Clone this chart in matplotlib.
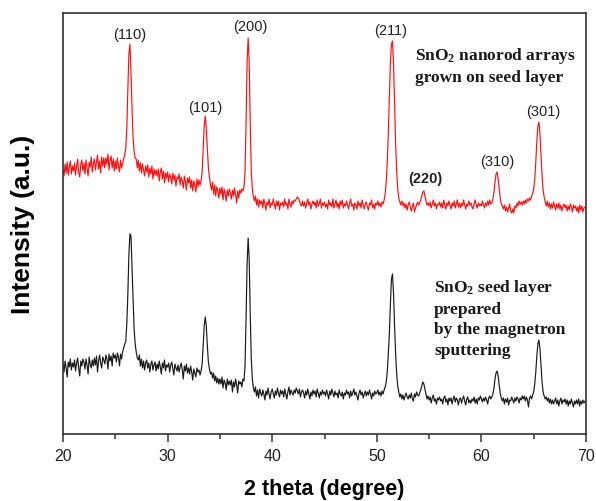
import numpy as np
import matplotlib
matplotlib.use("Agg")
import matplotlib.pyplot as plt

# ---------------- data ----------------
two_theta = np.round(np.arange(20.0, 70.0001, 0.1), 1)

nanorod_intensity = [
    264, 258, 270, 261, 272, 259, 267, 273, 260, 268,   # 20
    263, 271, 259, 268, 275, 262, 257, 270, 274, 263,   # 21
    271, 260, 274, 266, 258, 272, 267, 277, 262, 270,   # 22
    275, 264, 272, 279, 265, 273, 261, 277, 268, 276,   # 23
    266, 276, 270, 280, 264, 274, 278, 266, 275, 263,   # 24
    273, 265, 276, 268, 262, 274, 266, 271, 275, 279,   # 25
    286, 305, 345, 380, 390, 362, 325, 296, 282, 276,   # 26
    275, 266, 274, 263, 271, 261, 270, 264, 258, 268,   # 27
    262, 269, 257, 266, 260, 268, 255, 265, 259, 264,   # 28
    258, 265, 253, 262, 266, 255, 263, 251, 261, 256,   # 29
    262, 252, 260, 256, 250, 261, 254, 259, 248, 257,   # 30
    255, 260, 249, 257, 253, 246, 258, 252, 244, 256,   # 31
    251, 257, 246, 254, 243, 253, 249, 242, 255, 247,   # 32
    254, 249, 253, 262, 285, 308, 318, 305, 285, 266,   # 33
    257, 249, 244, 252, 240, 249, 238, 247, 243, 236,   # 34
    246, 240, 247, 234, 245, 240, 233, 244, 238, 245,   # 35
    241, 235, 244, 238, 246, 239, 231, 243, 236, 244,   # 36
    241, 245, 243, 247, 262, 310, 372, 396, 372, 310,   # 37
    262, 245, 237, 233, 238, 229, 235, 227, 234, 230,   # 38
    233, 226, 235, 230, 224, 232, 229, 235, 226, 231,   # 39
    229, 235, 230, 225, 233, 228, 233, 224, 231, 229,   # 40
    232, 227, 235, 229, 231, 225, 235, 230, 227, 233,   # 41
    230, 234, 233, 235, 237, 236, 233, 230, 228, 233,   # 42
    228, 232, 226, 231, 235, 229, 232, 225, 230, 233,   # 43
    229, 232, 226, 234, 228, 230, 235, 226, 231, 229,   # 44
    232, 227, 230, 225, 234, 229, 231, 227, 235, 226,   # 45
    230, 234, 227, 231, 225, 233, 229, 234, 226, 230,   # 46
    228, 233, 229, 225, 231, 235, 228, 230, 224, 231,   # 47
    229, 225, 233, 228, 231, 226, 234, 229, 225, 230,   # 48
    232, 227, 224, 231, 229, 234, 226, 230, 225, 231,   # 49
    229, 233, 228, 231, 227, 232, 230, 234, 240, 252,   # 50
    272, 300, 335, 372, 390, 393, 370, 330, 290, 262,   # 51
    245, 236, 232, 229, 233, 228, 231, 226, 230, 224,   # 52
    229, 232, 227, 223, 227, 231, 222, 226, 229, 232,   # 53
    229, 231, 234, 238, 242, 243, 238, 233, 229, 231,   # 54
    228, 232, 226, 230, 234, 228, 231, 225, 230, 229,   # 55
    232, 227, 231, 226, 234, 229, 225, 231, 228, 233,   # 56
    229, 225, 231, 228, 233, 226, 230, 234, 227, 231,   # 57
    226, 231, 228, 234, 229, 225, 230, 228, 233, 229,   # 58
    231, 227, 225, 230, 234, 229, 226, 231, 228, 230,   # 59
    228, 233, 229, 226, 231, 228, 233, 229, 234, 230,   # 60
    231, 235, 242, 252, 260, 262, 255, 245, 236, 230,   # 61
    228, 225, 229, 223, 227, 222, 226, 230, 223, 221,   # 62
    225, 221, 228, 226, 231, 228, 233, 230, 232, 229,   # 63
    233, 230, 234, 231, 235, 233, 236, 234, 238, 240,   # 64
    245, 255, 272, 293, 308, 312, 300, 278, 258, 244,   # 65
    237, 232, 228, 233, 227, 231, 225, 230, 226, 232,   # 66
    228, 224, 230, 226, 231, 225, 229, 223, 228, 230,   # 67
    226, 229, 223, 228, 224, 230, 227, 222, 229, 226,   # 68
    228, 223, 227, 221, 229, 224, 228, 222, 226, 227,   # 69
    226,                                                # 70
]

seed_intensity = [
    70, 62, 73, 66, 57, 72, 67, 75, 64, 71,    # 20
    67, 74, 63, 71, 76, 66, 58, 73, 68, 75,    # 21
    72, 65, 75, 69, 60, 77, 70, 66, 74, 68,    # 22
    76, 69, 78, 62, 73, 79, 71, 66, 77, 74,    # 23
    70, 79, 75, 65, 80, 73, 78, 68, 81, 76,    # 24
    79, 72, 81, 77, 68, 80, 75, 82, 86, 90,    # 25
    92, 110, 140, 180, 200, 198, 165, 135, 105, 90,  # 26
    82, 76, 74, 79, 68, 75, 66, 73, 64, 71,    # 27
    74, 66, 71, 62, 70, 73, 64, 69, 72, 63,    # 28
    70, 65, 73, 67, 60, 71, 66, 74, 63, 69,    # 29
    67, 71, 62, 69, 72, 65, 59, 70, 66, 63,    # 30
    69, 62, 67, 71, 64, 55, 68, 63, 70, 61,    # 31
    66, 60, 68, 62, 54, 65, 61, 57, 66, 62,    # 32
    64, 59, 63, 70, 88, 108, 117, 108, 88, 72, # 33
    65, 60, 62, 56, 61, 53, 58, 51, 56, 50,    # 34
    55, 50, 57, 46, 54, 51, 44, 55, 49, 53,    # 35
    49, 54, 42, 52, 47, 55, 49, 41, 53, 50,    # 36
    52, 47, 55, 53, 68, 115, 170, 196, 175, 120,  # 37
    75, 55, 46, 42, 47, 38, 44, 36, 45, 41,    # 38
    38, 44, 40, 34, 43, 39, 46, 40, 35, 42,    # 39
    45, 40, 36, 43, 39, 46, 41, 37, 44, 40,    # 40
    43, 37, 45, 40, 35, 42, 47, 39, 44, 41,    # 41
    39, 44, 41, 46, 43, 40, 45, 37, 42, 44,    # 42
    41, 36, 43, 39, 45, 40, 35, 42, 38, 44,    # 43
    40, 43, 37, 45, 41, 36, 42, 39, 44, 40,    # 44
    42, 38, 44, 40, 35, 43, 39, 45, 41, 37,    # 45
    43, 39, 41, 36, 44, 40, 38, 42, 35, 41,    # 46
    39, 44, 40, 42, 36, 43, 38, 41, 45, 39,    # 47
    42, 38, 34, 41, 44, 39, 42, 36, 40, 43,    # 48
    38, 42, 39, 44, 40, 35, 41, 38, 43, 40,    # 49
    41, 44, 39, 42, 38, 43, 40, 44, 47, 52,    # 50
    62, 80, 100, 130, 155, 160, 140, 108, 80, 60,  # 51
    48, 42, 37, 40, 35, 39, 34, 38, 41, 37,    # 52
    35, 39, 36, 41, 35, 33, 40, 37, 42, 39,    # 53
    38, 41, 44, 48, 52, 50, 45, 40, 35, 38,    # 54
    34, 37, 31, 36, 39, 33, 35, 30, 36, 34,    # 55
    37, 33, 35, 30, 36, 38, 32, 35, 29, 36,    # 56
    33, 36, 30, 35, 38, 32, 36, 34, 29, 35,    # 57
    36, 31, 35, 38, 33, 29, 35, 37, 31, 34,    # 58
    31, 35, 33, 37, 31, 35, 30, 36, 34, 38,    # 59
    35, 32, 36, 33, 37, 34, 30, 36, 38, 35,    # 60
    37, 40, 46, 55, 61, 63, 58, 49, 41, 36,    # 61
    33, 36, 30, 35, 32, 36, 29, 34, 33, 37,    # 62
    34, 31, 36, 33, 37, 35, 31, 36, 34, 38,    # 63
    35, 38, 33, 37, 34, 27, 36, 38, 35, 39,    # 64
    42, 50, 62, 78, 90, 94, 85, 68, 52, 42,    # 65
    38, 35, 37, 33, 36, 31, 35, 30, 34, 30,    # 66
    33, 36, 30, 34, 28, 33, 36, 30, 34, 32,    # 67
    35, 30, 34, 28, 33, 30, 35, 31, 27, 33,    # 68
    30, 34, 30, 35, 28, 33, 30, 34, 31, 33,    # 69
    32,                                        # 70
]

peak_labels = ["(110)", "(101)", "(200)", "(211)", "(220)", "(310)", "(301)"]
peak_label_x = [26.4, 33.6, 37.9, 51.35, 54.6, 61.55, 65.9]
peak_label_y = [400, 327, 408, 404, 256, 273, 323]
peak_label_bold = [False, False, False, False, True, False, False]

x_ticks = [20, 30, 40, 50, 60, 70]
x_minor_ticks = [25, 35, 45, 55, 65]

# ---------------- style ----------------
plt.rcParams["font.family"] = ["Liberation Sans", "DejaVu Sans"]
plt.rcParams["mathtext.fontset"] = "custom"
plt.rcParams["mathtext.rm"] = "Liberation Serif:bold"
plt.rcParams["mathtext.it"] = "Liberation Serif:bold"
plt.rcParams["mathtext.bf"] = "Liberation Serif:bold"

fig = plt.figure(figsize=(5.96, 5.02), dpi=100)
ax = fig.add_axes([63 / 596, 67 / 502, 523 / 596, 421 / 502])

ax.plot(two_theta, nanorod_intensity, color="#ff1010", lw=0.85)
ax.plot(two_theta, seed_intensity, color="#1a1a1a", lw=0.85)

ax.set_xlim(20, 70)
ax.set_ylim(0, 421)
ax.set_yticks([])
ax.set_xticks(x_ticks)
ax.set_xticks(x_minor_ticks, minor=True)
ax.tick_params(axis="x", which="major", direction="out", length=6, width=1.1,
               labelsize=11.5, colors="#333333", labelcolor="#222222", pad=4)
ax.tick_params(axis="x", which="minor", direction="out", length=3.5, width=1.1,
               colors="#333333")
for s in ax.spines.values():
    s.set_linewidth(1.2)
    s.set_color("#333333")

ax.set_xlabel("2 theta (degree)", fontsize=15.5, fontweight="bold")
ax.xaxis.set_label_coords(0.5, -0.1306)
ax.xaxis.label.set_verticalalignment("center")
ax.set_ylabel("Intensity (a.u.)", fontsize=19, fontweight="bold")
ax.yaxis.set_label_coords(-0.077, 0.5)
ax.yaxis.label.set_verticalalignment("center")

for lab, lx, ly, b in zip(peak_labels, peak_label_x, peak_label_y, peak_label_bold):
    ax.text(lx, ly, lab, ha="center", va="center", fontsize=10.5,
            fontweight="bold" if b else "normal", color="#222222")

ax.text(53.65, 369, "SnO$_2$ nanorod arrays\ngrown on seed layer",
        ha="left", va="center", fontsize=12.5, fontweight="bold",
        family="Liberation Serif", color="#1a1a1a", linespacing=1.25)
ax.text(55.47, 116.7, "SnO$_2$ seed layer\nprepared\nby the magnetron\nsputtering",
        ha="left", va="center", fontsize=12.5, fontweight="bold",
        family="Liberation Serif", color="#1a1a1a", linespacing=1.35)

fig.savefig("out.png", dpi=100)
